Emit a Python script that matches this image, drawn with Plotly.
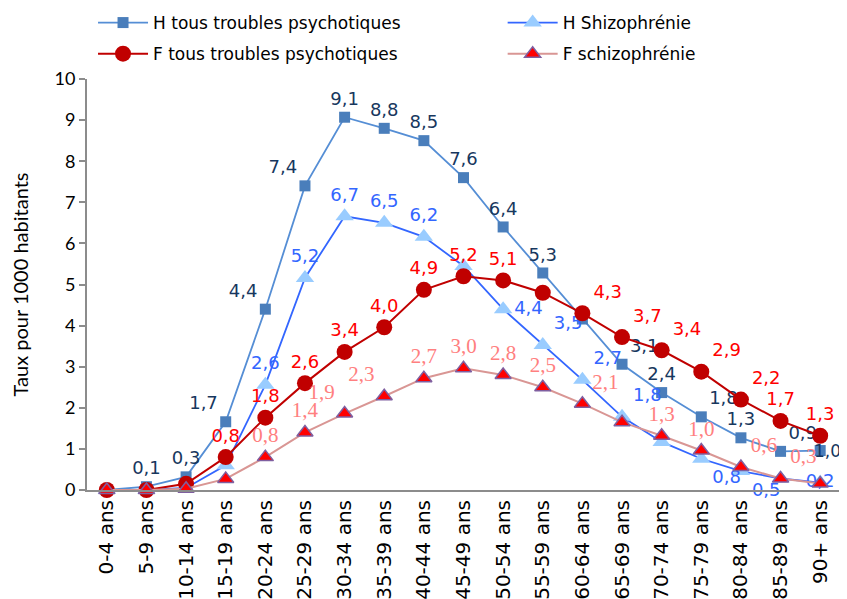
import plotly.graph_objects as go

categories = ["0-4 ans", "5-9 ans", "10-14 ans", "15-19 ans", "20-24 ans", "25-29 ans",
              "30-34 ans", "35-39 ans", "40-44 ans", "45-49 ans", "50-54 ans", "55-59 ans",
              "60-64 ans", "65-69 ans", "70-74 ans", "75-79 ans", "80-84 ans", "85-89 ans",
              "90+ ans"]

h_tous = [0.0, 0.08, 0.32, 1.66, 4.4, 7.4, 9.07, 8.8, 8.5, 7.6, 6.4, 5.28, 4.16, 3.06,
          2.37, 1.78, 1.27, 0.94, 0.96]
h_schizo = [0.0, 0.0, 0.05, 0.6, 2.56, 5.16, 6.66, 6.5, 6.16, 5.45, 4.4, 3.53, 2.68, 1.78,
            1.17, 0.76, 0.46, 0.28, 0.18]
f_tous = [0.0, 0.0, 0.15, 0.8, 1.76, 2.6, 3.36, 3.96, 4.87, 5.2, 5.1, 4.8, 4.3, 3.72,
          3.4, 2.88, 2.2, 1.68, 1.32]
f_schizo = [0.0, 0.0, 0.03, 0.27, 0.8, 1.4, 1.86, 2.28, 2.72, 2.96, 2.8, 2.5, 2.1, 1.65,
            1.32, 0.96, 0.56, 0.28, 0.16]

y_ticks = [0, 1, 2, 3, 4, 5, 6, 7, 8, 9, 10]

# indices whose data labels are not shown in the original
hide_h_tous = {0, 12}
hide_h_schizo = {0, 1, 2, 3, 9, 14, 17}
hide_f_tous = {0, 1, 2, 11}
hide_f_schizo = {0, 1, 2, 3, 13, 18}


def fmt(v):
    return f"{v:.1f}".replace(".", ",")


def labels(vals, hidden):
    return ["" if i in hidden else fmt(v) for i, v in enumerate(vals)]


TC, TL, TR, MR, BR, MC = ("top center", "top left", "top right", "middle right",
                          "bottom right", "middle center")
pos_h_tous = [TC, TC, TC, TL, TL, TL, TC, TC, TC, TC, TC, TC, TC, TR, TC, TR, TC, TR, MR]
pos_h_schizo = [TC, TC, TC, TC, TC, TC, TC, TC, TC, TC, MR, TR, TR, TR, TC, BR, BR, TC, MC]
pos_f_tous = [TC, TC, TC, TC, TC, TC, TC, TC, TC, TC, TC, TC, TR, TR, TR, TR, TR, TC, TC]
pos_f_schizo = [TC, TC, TC, TC, TC, TC, TL, TL, TC, TC, TC, TC, TR, TR, TC, TC, TR, TR, TC]

SANS = "DejaVu Sans, Verdana, sans-serif"
fig = go.Figure()

# last H label is drawn as an annotation hugging the marker (as in the original)
h_tous_text = labels(h_tous, hide_h_tous)
h_tous_text[-1] = ""

fig.add_trace(go.Scatter(
    x=categories, y=h_tous, name="H tous troubles psychotiques",
    mode="lines+markers+text", legend="legend", legendgroup="a",
    line=dict(color="#558ED5", width=1.8),
    marker=dict(symbol="square", size=11, color="#4A7EBB"),
    text=h_tous_text, textposition=pos_h_tous,
    textfont=dict(family=SANS, size=18, color="#17375E"),
    cliponaxis=False,
))
fig.add_trace(go.Scatter(
    x=categories, y=h_schizo, name="H Shizophrénie",
    mode="lines+markers+text", legend="legend2", legendgroup="b",
    line=dict(color="#3366FF", width=1.8),
    marker=dict(symbol="triangle-up", size=16, color="#99CCFF"),
    text=labels(h_schizo, hide_h_schizo), textposition=pos_h_schizo,
    textfont=dict(family=SANS, size=18, color="#3366FF"),
    cliponaxis=False,
))
fig.add_trace(go.Scatter(
    x=categories, y=f_tous, name="F tous troubles psychotiques",
    mode="lines+markers+text", legend="legend", legendgroup="c",
    line=dict(color="#C00000", width=2),
    marker=dict(symbol="circle", size=16, color="#C00000"),
    text=labels(f_tous, hide_f_tous), textposition=pos_f_tous,
    textfont=dict(family=SANS, size=18, color="#FF0000"),
    cliponaxis=False,
))
fig.add_trace(go.Scatter(
    x=categories, y=f_schizo, name="F schizophrénie",
    mode="lines+markers+text", legend="legend2", legendgroup="d",
    line=dict(color="#D99694", width=2),
    marker=dict(symbol="triangle-up", size=14, color="#FF0000",
                line=dict(color="#7F5FA0", width=1.5)),
    text=labels(f_schizo, hide_f_schizo), textposition=pos_f_schizo,
    textfont=dict(family="Liberation Serif, Times New Roman", size=21, color="#FF8080"),
    cliponaxis=False,
))

fig.add_annotation(
    x=categories[-1], y=h_tous[-1], xref="x", yref="y",
    text=fmt(h_tous[-1]), showarrow=False, xanchor="left", yanchor="middle",
    xshift=-7, borderpad=0, font=dict(family=SANS, size=17, color="#17375E"),
)

legend_common = dict(
    orientation="v", xanchor="left", yanchor="top",
    font=dict(family=SANS, size=17, color="black"),
    bgcolor="rgba(0,0,0,0)", tracegroupgap=6, itemwidth=50,
)

fig.update_layout(
    width=847, height=599,
    margin=dict(l=79, r=15, t=71, b=117, autoexpand=False),
    paper_bgcolor="white", plot_bgcolor="white",
    separators=", ",
    showlegend=True,
    legend=dict(x=0.008, y=1.18, **legend_common),
    legend2=dict(x=0.552, y=1.18, **legend_common),
    xaxis=dict(
        type="category", range=[-0.5, 18.5],
        showline=True, linecolor="#8C8C8C", linewidth=2,
        ticks="", showgrid=False, zeroline=False,
        tickangle=-90, tickfont=dict(family=SANS, size=20, color="black"),
        automargin=False,
    ),
    yaxis=dict(
        range=[0, 10], tickvals=y_ticks,
        showline=True, linecolor="#8C8C8C", linewidth=2,
        ticks="outside", ticklen=6, tickcolor="#8C8C8C", tickwidth=1.5,
        showgrid=False, zeroline=False,
        tickfont=dict(family="Lato, Open Sans", size=18, color="black"),
        title=dict(text="Taux pour 1000 habitants",
                   font=dict(family="Lato, Open Sans", size=20, color="black"),
                   standoff=22),
        automargin=False,
    ),
)

fig.write_html("out.html")
